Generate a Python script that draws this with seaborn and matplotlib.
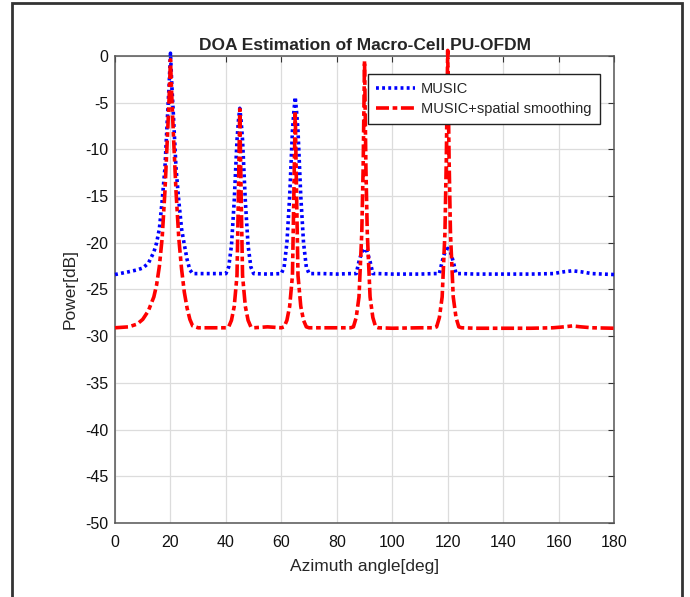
# DOA estimation spectrum: MUSIC vs MUSIC + spatial smoothing
import numpy as np
import pandas as pd
import seaborn as sns
import matplotlib.pyplot as plt
from matplotlib.patches import Rectangle

# Data ---------------------------------
music_angle = [0, 5, 8, 10, 12, 14, 15, 16, 17, 18, 19, 19.5, 20, 20.5, 21, 22, 23, 24, 25, 26, 27, 28, 30,
               35, 40, 41, 42, 43, 44, 44.5, 45, 45.5, 46, 47, 48, 49, 50,
               55, 60, 61, 62, 63, 64, 64.5, 65, 65.5, 66, 67, 68, 69, 70,
               75, 80, 85, 87, 88, 89, 90, 91, 92, 93, 95,
               100, 110, 115, 117, 118, 119, 120, 121, 122, 123, 125,
               130, 140, 150, 158, 162, 165, 168, 172, 180]
music_power = [-23.4, -23.1, -22.9, -22.7, -22.2, -21.0, -20.0, -18.5, -15.5, -12.0, -6.0, -3.2, 0.3, -3.2, -6.0, -12.0, -15.5, -18.5, -20.2, -21.8, -22.9, -23.3, -23.3,
               -23.3, -23.3, -22.6, -20.3, -15.5, -9.0, -7.0, -5.6, -7.0, -9.0, -15.5, -20.3, -22.6, -23.3,
               -23.35, -23.3, -22.6, -20.0, -15.0, -8.0, -6.0, -4.4, -6.0, -8.0, -15.0, -20.0, -22.6, -23.3,
               -23.3, -23.35, -23.3, -23.3, -22.0, -21.0, -20.6, -21.0, -22.0, -23.3, -23.3,
               -23.35, -23.35, -23.3, -23.3, -22.0, -21.0, -20.6, -21.0, -22.0, -23.3, -23.3,
               -23.35, -23.35, -23.35, -23.3, -23.1, -23.0, -23.1, -23.3, -23.4]

smooth_angle = [0, 5, 8, 10, 12, 14, 15, 16, 17, 18, 19, 19.5, 20, 20.5, 21, 22, 23, 24, 25, 26, 27, 28, 30,
                35, 40, 41, 42, 43, 44, 44.5, 45, 45.5, 46, 47, 48, 49, 50,
                55, 60, 61, 62, 63, 64, 64.5, 65, 65.5, 66, 67, 68, 69, 70,
                75, 80, 85, 86, 87, 88, 89, 89.5, 90, 90.5, 91, 92, 93, 94, 95,
                100, 110, 115, 116, 117, 118, 119, 119.5, 120, 120.5, 121, 122, 123, 124, 125,
                130, 140, 150, 158, 162, 165, 168, 172, 180]
smooth_power = [-29.1, -29.0, -28.7, -28.2, -27.3, -25.8, -24.5, -22.5, -19.5, -14.5, -8.0, -4.5, -0.4, -4.5, -8.0, -14.5, -19.5, -22.8, -25.3, -27.0, -28.2, -28.9, -29.1,
                -29.1, -29.1, -29.0, -28.3, -26.8, -23.5, -15.0, -5.7, -15.0, -23.5, -26.8, -28.3, -29.0, -29.1,
                -29.0, -29.1, -29.0, -28.3, -26.8, -23.5, -15.0, -5.9, -15.0, -23.5, -26.8, -28.3, -29.0, -29.1,
                -29.1, -29.1, -29.1, -29.0, -28.0, -25.8, -19.0, -12.0, -0.5, -12.0, -19.0, -25.8, -28.0, -29.0, -29.1,
                -29.15, -29.1, -29.1, -29.0, -28.0, -25.8, -19.0, -11.0, 0.6, -11.0, -19.0, -25.8, -28.0, -29.0, -29.1,
                -29.15, -29.15, -29.15, -29.1, -29.0, -28.9, -29.0, -29.1, -29.15]

x_ticks = list(range(0, 181, 20))
y_ticks = list(range(-50, 1, 5))

# Plot ----------
sns.set_style("whitegrid")
plt.rcParams['font.family'] = ['Liberation Sans', 'DejaVu Sans']
plt.rcParams['axes.unicode_minus'] = False

fig = plt.figure(figsize=(6.9, 5.97), dpi=100)
ax = fig.add_axes([0.1667, 0.124, 0.7232, 0.7822])

df_music = pd.DataFrame({'angle': music_angle, 'power': music_power})
df_smooth = pd.DataFrame({'angle': smooth_angle, 'power': smooth_power})

sns.lineplot(data=df_music, x='angle', y='power', ax=ax, color='#0000ff', lw=2.6,
             linestyle=(0, (0.8, 0.9)), label='MUSIC', clip_on=False, zorder=3)
sns.lineplot(data=df_smooth, x='angle', y='power', ax=ax, color='#ff0000', lw=2.6,
             linestyle=(0, (3.6, 1.0, 1.3, 1.0)), label='MUSIC+spatial smoothing', clip_on=False, zorder=4)

ax.set_xlim(0, 180)
ax.set_ylim(-50, 0)
ax.set_xticks(x_ticks)
ax.set_yticks(y_ticks)
ax.grid(True, color='#dcdcdc', lw=0.9)
ax.tick_params(direction='in', length=4, top=True, right=True, labelsize=11.5,
               color='#333333', labelcolor='#111111')
ax.tick_params(axis='x', pad=9)
ax.tick_params(axis='y', pad=5)
for s in ax.spines.values():
    s.set_color('#555555')
    s.set_linewidth(1.1)

ax.set_title('DOA Estimation of Macro-Cell PU-OFDM', fontsize=12.5, fontweight='bold', pad=4)
ax.set_xlabel('Azimuth angle[deg]', fontsize=12.5, labelpad=6)
ax.set_ylabel('Power[dB]', fontsize=12.5, labelpad=5)

leg = ax.legend(loc='upper right', bbox_to_anchor=(0.971, 0.962), fontsize=10.5, frameon=True,
                fancybox=False, framealpha=1, edgecolor='#222222', handlelength=2.7,
                borderpad=0.55, labelspacing=0.45, handletextpad=0.4, borderaxespad=0)
leg.get_frame().set_linewidth(1.0)

# outer frame around the figure
fig.patches.append(Rectangle((12 / 690, -0.02), 670 / 690, 1.02 - 3 / 597, transform=fig.transFigure,
                             fill=False, edgecolor='#333333', lw=2))

fig.savefig('out.png', dpi=100)
